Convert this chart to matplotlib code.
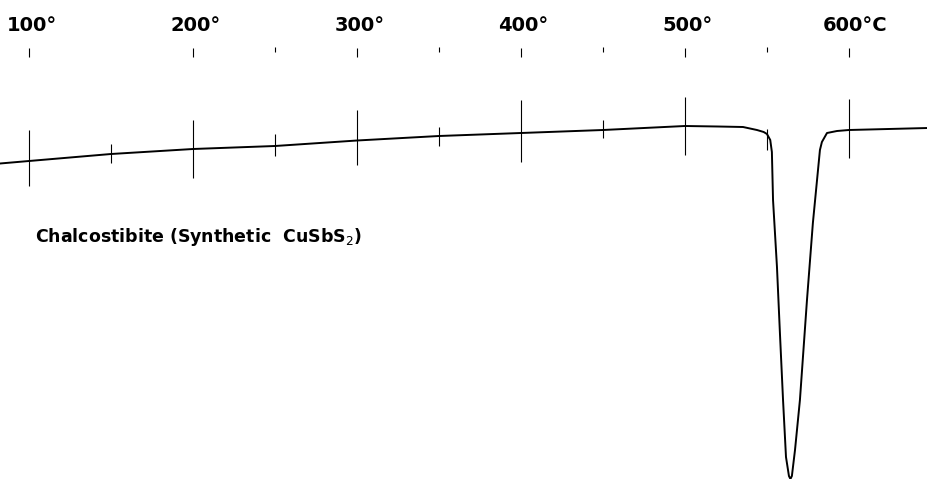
import matplotlib
matplotlib.use("Agg")
import matplotlib.pyplot as plt

# DTA trace: temperature (deg C) and pen position (0 = bottom, 479 = top)
temp = [82.3, 100, 150, 200, 250, 300, 350, 400, 450, 500, 520, 535.4, 543.9, 548, 550.0,
        552.0, 553.0, 553.7, 556.1, 557.9, 559.8, 561.6, 563.4, 564.3, 565.2, 567.1, 570.1,
        574.4, 578.0, 582.3, 583.5, 586.6, 592.7, 600, 648.2]
trace_px = [163.5, 161, 154, 149, 146, 140.5, 136, 133, 130, 126, 126.5, 127, 130, 132, 134,
            140, 152, 200, 267, 333, 400, 457, 476, 479, 476, 450, 400,
            300, 223, 150, 142, 133, 131, 130, 128]
signal = [479 - p for p in trace_px]

# temperature marks cut across the trace
major_t = [100, 200, 300, 400, 500, 600]
major_top_px = [130, 120, 110, 100, 97, 99]
major_bot_px = [186, 178, 165, 162, 155, 158]
minor_t = [150, 250, 350, 450, 550]
minor_top_px = [144, 134, 127, 120, 129]
minor_bot_px = [163, 156, 146, 138, 150]

scale_labels = ["100°", "200°", "300°", "400°", "500°", "600°C"]

fig = plt.figure(figsize=(9.28, 4.79), dpi=100)
ax = fig.add_axes([0, 0, 1, 1])
ax.set_xlim(82.3, 648.2)
ax.set_ylim(0, 479)
ax.axis("off")

ax.plot(temp, signal, color="black", lw=1.4, solid_joinstyle="round")

ax.vlines(major_t, [479 - p for p in major_bot_px], [479 - p for p in major_top_px],
          color="black", lw=0.8)
ax.vlines(minor_t, [479 - p for p in minor_bot_px], [479 - p for p in minor_top_px],
          color="black", lw=0.8)

# small marks along the top scale
ax.vlines(major_t, 479 - 57, 479 - 48, color="black", lw=0.8)
ax.vlines(minor_t[1:], 479 - 52, 479 - 47, color="black", lw=0.8)

for t, lab in zip(major_t, scale_labels):
    off = 4 if lab.endswith("C") else 1.5
    ax.text(t + off, 479 - 25, lab, ha="center", va="center",
            fontsize=14, fontweight="bold", family="DejaVu Sans")

ax.text(103.7, 479 - 237, "Chalcostibite (Synthetic  CuSbS$_2$)", ha="left", va="center",
        fontsize=12.5, fontweight="bold", family="DejaVu Sans")

fig.savefig("out.png", dpi=100)
